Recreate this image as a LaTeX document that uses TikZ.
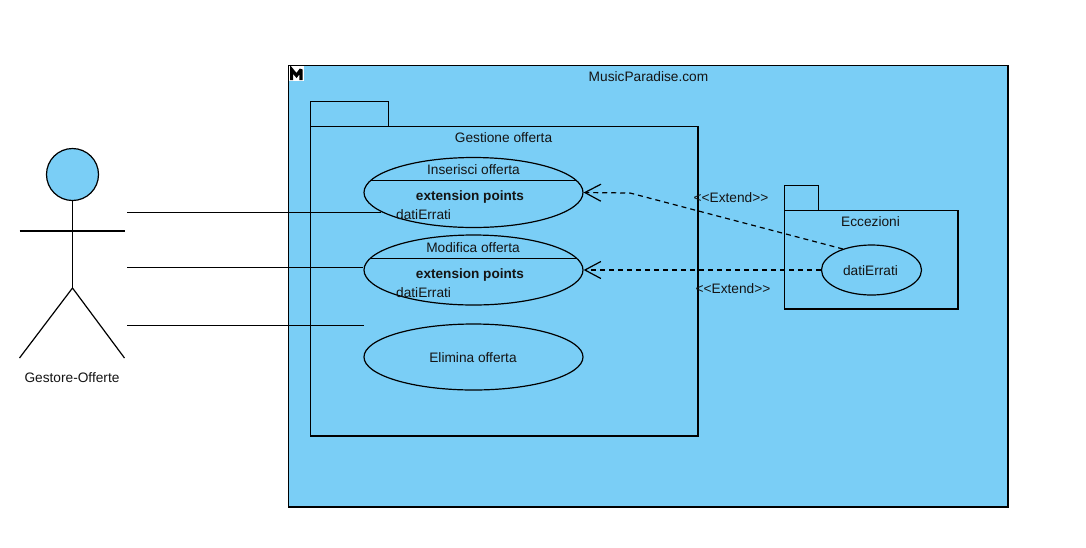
\documentclass[tikz,border=0pt]{standalone}
\usepackage{fontspec}
\setmainfont{Liberation Sans}
\usetikzlibrary{shapes.geometric,arrows.meta}
\definecolor{ucblue}{HTML}{7ACEF6}
\tikzset{
  x=1pt,y=-1pt,
  box/.style={draw=black,line width=1.2pt,fill=ucblue},
  uc/.style={ellipse,draw=black,line width=1.2pt,fill=ucblue,inner sep=0pt,minimum width=219pt,minimum height=70pt},
  lbl/.style={inner sep=0pt,font=\fontsize{13.7}{16}\selectfont,text=black!92},
  bold/.style={lbl,font=\fontsize{13.6}{16}\selectfont\bfseries},
  conn/.style={draw=black,line width=1.2pt},
  ext/.style={conn,dash pattern=on 5pt off 4pt},
  tip/.style={-{Straight Barb[length=16pt,width=17pt,line width=1.2pt]}},
}
\begin{document}
\begin{tikzpicture}
\useasboundingbox (0,0) rectangle (1086,547);
\fill[white] (0,0) rectangle (1086,547);
% system
\draw[box] (288.7,65.7) rectangle (1008,507);
\node[lbl] (sys) at (648.5,76.5) {MusicParadise.com};
\fill[white] (289,66) rectangle (304,81);
\draw[line width=3.2pt,line join=miter,miter limit=3,black] (291.6,80) -- (291.6,69.5) -- (296.5,75.5) -- (301,69.5) -- (301,80);
% package Gestione
\draw[box] (310.5,101.5) rectangle (388.5,126.5);
\draw[box] (310.5,126.5) rectangle (698,436);
\node[lbl] (pg) at (503.5,138) {Gestione offerta};
% package Eccezioni
\draw[box] (784.5,185.5) rectangle (818.5,210.5);
\draw[box] (784.5,210.5) rectangle (958,309);
\node[lbl] (pe) at (870.5,221.5) {Eccezioni};
% use cases
\node[uc] (ins) at (473.5,192.5) {};
\node[uc] (mod) at (473.5,270) {};
\node[uc,minimum height=66pt] (eli) at (473.5,357) {};
\node[uc,minimum width=100pt,minimum height=50pt] (dat) at (871.5,270) {};
\coordinate (insL) at (370.6,180.5);
\coordinate (insR) at (576.4,180.5);
\coordinate (modL) at (370.6,258.3);
\coordinate (modR) at (576.4,258.3);
\draw[conn] (insL) -- (insR);
\draw[conn] (modL) -- (modR);
\node[lbl] (insT) at (473.5,169.5) {Inserisci offerta};
\node[bold] (insE) at (470,197) {extension points};
\node[lbl,anchor=west] (insD) at (396,214.5) {datiErrati};
\node[lbl] (modT) at (473,247.5) {Modifica offerta};
\node[bold] (modE) at (470,275) {extension points};
\node[lbl,anchor=west] (modD) at (396,292.5) {datiErrati};
\node[lbl] (eliT) at (473,357.5) {Elimina offerta};
\node[lbl] (datT) at (870.5,270.5) {datiErrati};
% actor
\node[circle,draw=black,line width=1.2pt,fill=ucblue,inner sep=0pt,minimum size=52pt] (head) at (72.5,174.5) {};
\coordinate (hip) at (72.5,288);
\coordinate (armL) at (19.5,231);
\coordinate (armR) at (124.5,231);
\coordinate (legL) at (19.5,358);
\coordinate (legR) at (124.5,358);
\draw[conn] (head.south) -- (hip);
\draw[conn] (armL) -- (armR);
\draw[conn] (legL) -- (hip) -- (legR);
\node[lbl] (act) at (72,377.5) {Gestore-Offerte};
% connectors
\coordinate (a1) at (127,212.5);
\coordinate (a2) at (127,267.5);
\coordinate (a3) at (127,325.5);
\coordinate (b1) at (381,212.5);
\coordinate (b3) at (364,325.5);
\draw[conn] (a1) -- (b1);
\draw[conn] (a2) -- (mod.west |- a2);
\draw[conn] (a3) -- (b3);
\coordinate (bend) at (630,193);
\coordinate (datN) at (843,249);
\draw[ext,tip] (datN) -- (bend) -- (ins.east);
\draw[ext,tip] (dat.west) -- (mod.east);
\node[lbl] (e1) at (731,197.5) {<{}<Extend>{}>};
\node[lbl] (e2) at (733,288.5) {<{}<Extend>{}>};
\end{tikzpicture}
\end{document}
